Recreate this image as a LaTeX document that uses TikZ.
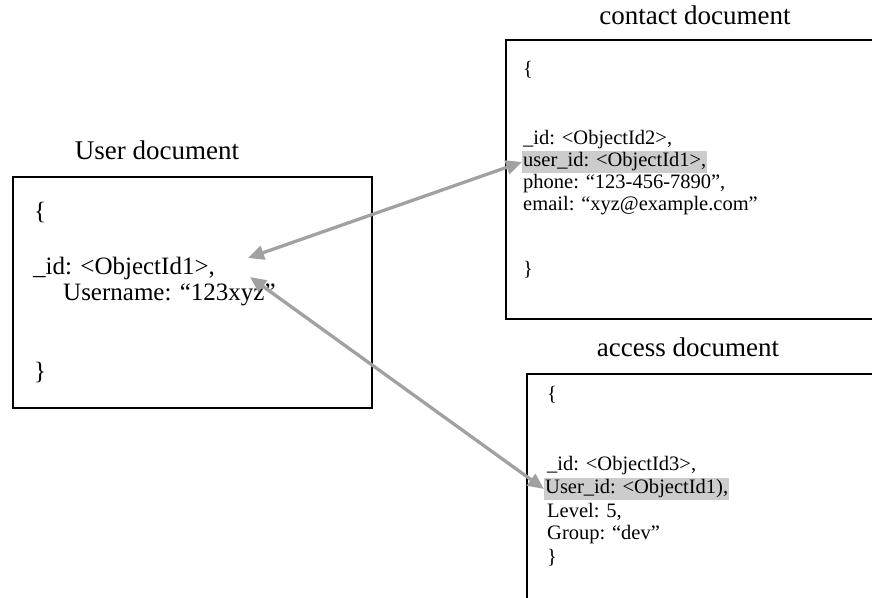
\documentclass[tikz,border=0pt]{standalone}
\usepackage{fontspec}
\setmainfont{Liberation Serif}
\usetikzlibrary{arrows.meta}
\begin{document}
\begin{tikzpicture}[x=1pt,y=-1pt,
  docbox/.style={draw=black, line width=2.2pt, anchor=north west, inner sep=0pt},
  doclabel/.style={font=\fontsize{27}{30}\selectfont, inner sep=0pt},
  usertext/.style={font=\fontsize{25}{28}\selectfont, anchor=west, inner sep=0pt},
  codetext/.style={font=\fontsize{20.5}{24}\selectfont, anchor=west, inner sep=0pt},
  hilite/.style={fill=black!20, inner xsep=1pt, inner ysep=2pt},
  link/.style={draw=black!37, line width=3.3pt,
    {Triangle[length=16pt,width=14pt]}-{Triangle[length=16pt,width=14pt]}}
]
\clip (0,0) rectangle (872,597);

% document frames (the two on the right run past the edge)
\node (userbox)    [docbox, minimum width=359pt, minimum height=231pt] at (12,176) {};
\node (contactbox) [docbox, minimum width=380pt, minimum height=279pt] at (505,39) {};
\node (accessbox)  [docbox, minimum width=360pt, minimum height=240pt] at (526,373) {};

% titles
\node (userlabel)    [doclabel] at (157,150) {User document};
\node (contactlabel) [doclabel] at (695,15)  {contact document};
\node (accesslabel)  [doclabel] at (688,347) {access document};

% user document
\node (uopen) [usertext] at (34,212) {\{};
\node (uid)   [usertext] at (33,268) {\_id: <ObjectId1>,};
\node (uname) [usertext] at (63,295) {Username: “123xyz”};
\node (uclose)[usertext] at (34,372) {\}};

% contact document
\node (copen)  [codetext] at (523,70)  {\{};
\node (cid)    [codetext] at (523,140) {\_id: <ObjectId2>,};
\node (cuid)   [codetext, hilite] at (522,162) {user\_id: <ObjectId1>,};
\node (cphone) [codetext] at (523,184) {phone: “123-456-7890”,};
\node (cmail)  [codetext] at (523,206) {email: “xyz@example.com”};
\node (cclose) [codetext] at (523,270) {\}};

% access document
\node (aopen)  [codetext] at (547,395) {\{};
\node (aid)    [codetext] at (547,466) {\_id: <ObjectId3>,};
\node (auid)   [codetext, hilite] at (544,489) {User\_id: <ObjectId1),};
\node (alevel) [codetext] at (547,512) {Level: 5,};
\node (agroup) [codetext] at (547,535) {Group: “dev”};
\node (aclose) [codetext] at (547,558) {\}};

% references back to the user id
\coordinate (uref1) at (248,258);
\coordinate (uref2) at (250,277);
\draw[link] (uref1) -- (cuid.west);
\draw[link] (uref2) -- (auid.west);
\end{tikzpicture}
\end{document}
